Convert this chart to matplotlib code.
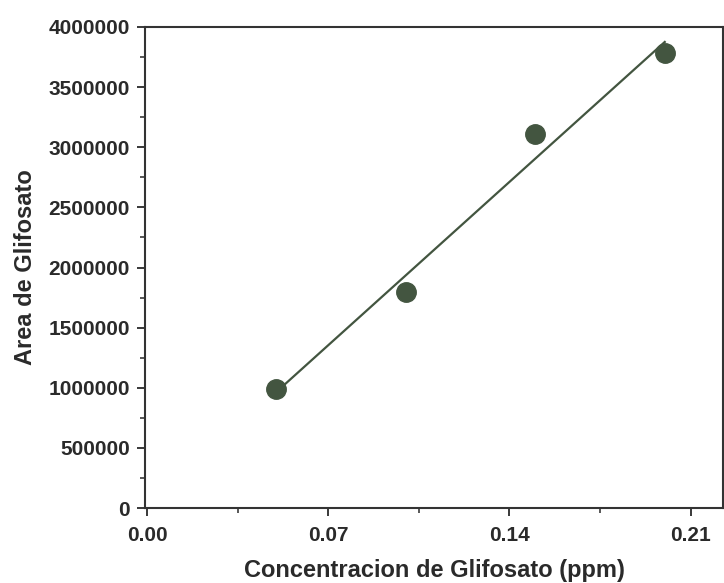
import numpy as np
import matplotlib
matplotlib.use("Agg")
import matplotlib.pyplot as plt
from matplotlib.ticker import MultipleLocator, FixedLocator

conc = [0.05, 0.10, 0.15, 0.20]
area = [990000, 1797000, 3111000, 3785000]
xticks = [0.00, 0.07, 0.14, 0.21]
xtick_labels = ["0.00", "0.07", "0.14", "0.21"]
yticks = [0, 500000, 1000000, 1500000, 2000000, 2500000, 3000000, 3500000, 4000000]

plt.rcParams['font.family'] = ['Liberation Sans', 'DejaVu Sans']
fig = plt.figure(figsize=(7.24, 5.83), dpi=100)
ax = fig.add_axes([145/724, 1-508/583, (723-145)/724, (508-27)/583])

col = '#435540'
slope, inter = np.polyfit(conc, area, 1)
xl = np.array([conc[0], conc[-1]])
ax.plot(xl, slope*xl + inter, color=col, lw=1.6, zorder=2)
ax.plot(conc, area, 'o', color=col, ms=14, zorder=3)

ax.set_xlim(-0.0008, 0.2225)
ax.set_ylim(0, 4000000)
ax.xaxis.set_major_locator(FixedLocator(xticks))
ax.set_xticklabels(xtick_labels)
ax.xaxis.set_minor_locator(MultipleLocator(0.035))
ax.yaxis.set_major_locator(FixedLocator(yticks))
ax.set_yticklabels([str(v) for v in yticks])
ax.yaxis.set_minor_locator(MultipleLocator(250000))

tc = '#2a2a2a'
ax.tick_params(which='major', direction='out', length=6, width=1.3, colors=tc,
               labelsize=15, pad=5)
ax.tick_params(which='minor', direction='out', length=3.5, width=1.1, colors=tc)
ax.tick_params(axis='x', which='major', pad=7)
for lab in ax.get_xticklabels() + ax.get_yticklabels():
    lab.set_fontweight('bold')
for s in ax.spines.values():
    s.set_linewidth(1.5)
    s.set_color('#333333')

ax.set_xlabel('Concentracion de Glifosato (ppm)', fontsize=17, fontweight='bold',
              color=tc, labelpad=10)
ax.set_ylabel('Area de Glifosato', fontsize=17, fontweight='bold', color=tc,
              labelpad=8)

fig.savefig('out.png', dpi=100)
